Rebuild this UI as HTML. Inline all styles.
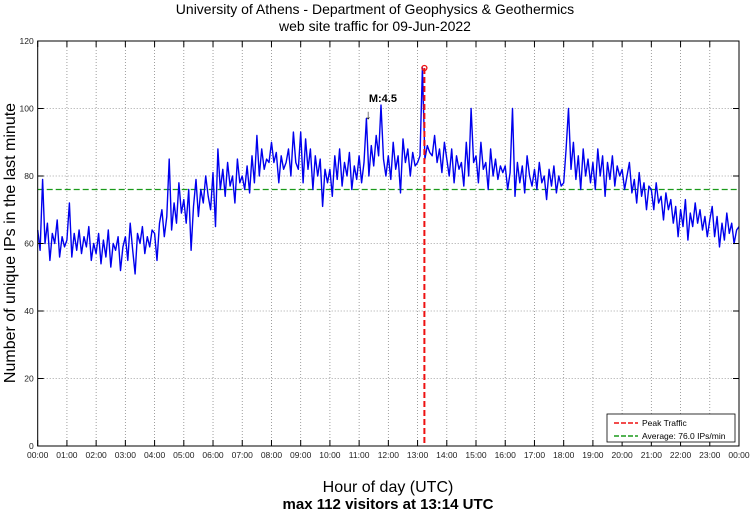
<!DOCTYPE html>
<html><head><meta charset="utf-8"><style>
body{margin:0;background:#fff;}
svg{display:block;font-family:"Liberation Sans",sans-serif;}
</style></head><body>
<svg id="chart" width="750" height="511">
<text x="375" y="14" text-anchor="middle" font-size="14">University of Athens - Department of Geophysics &amp; Geothermics</text>
<text x="375" y="31" text-anchor="middle" font-size="14">web site traffic for 09-Jun-2022</text>
<text transform="translate(15,243) rotate(-90)" text-anchor="middle" font-size="16">Number of unique IPs in the last minute</text>
<text x="388" y="492" text-anchor="middle" font-size="16">Hour of day (UTC)</text>
<text x="388" y="509" text-anchor="middle" font-size="15" font-weight="bold">max 112 visitors at 13:14 UTC</text>
<g id="grid"></g><g id="series"></g><g id="axes"></g>
</svg>
<script>
const hourLabels=["00:00","01:00","02:00","03:00","04:00","05:00","06:00","07:00","08:00","09:00","10:00","11:00","12:00","13:00","14:00","15:00","16:00","17:00","18:00","19:00","20:00","21:00","22:00","23:00","00:00"];
const yTicks=[0,20,40,60,80,100,120];
const visitors=[
64,58,79,60,66,55,63,60,67,56,62,59,
61,72,56,63,58,64,57,62,59,65,55,60,
57,63,54,61,56,64,53,60,58,62,52,59,
62,55,66,58,51,63,60,65,57,62,59,64,
63,55,66,70,62,68,85,64,72,66,78,69,
73,66,76,58,71,79,68,76,72,80,74,70,
81,65,88,76,82,74,84,77,80,72,85,78,
80,76,83,75,86,78,92,80,88,82,85,84,
90,84,87,78,86,82,84,88,80,93,84,82,
93,78,91,82,88,76,86,80,85,71,82,78,
82,74,86,79,88,77,84,80,87,76,83,79,
86,78,84,97,80,89,83,92,86,101,85,80,
86,79,90,82,86,75,91,84,88,80,87,83,
84,86,112,85,89,87,86,92,84,88,81,90,
85,80,88,78,86,82,84,77,90,80,100,84,
86,78,90,82,84,76,88,80,85,79,83,81,
83,76,81,100,74,84,78,83,75,86,80,77,
82,76,84,78,80,73,82,77,83,75,80,77,
78,88,100,82,90,79,86,76,88,80,85,78,
84,76,88,80,86,74,84,79,86,77,83,80,
82,76,80,84,75,79,72,81,74,78,70,77,
76,70,78,72,74,67,75,70,73,66,71,62,
70,65,73,61,69,65,72,66,70,64,68,62,
67,71,62,68,59,66,61,69,63,66,60,64,65];
const stepMinutes=[5];
const averageValue=[76.0];
const peakValue=[112];
const peakMinute=[794];
const markerMinute=[680];
const NS="http://www.w3.org/2000/svg";
const L=37.7,R=739,T=41,B=446;
const xs=m=>L+(m/1440)*(R-L);
const ys=v=>B-(v/120)*(B-T);
function mk(tag,attrs,parent){const e=document.createElementNS(NS,tag);for(const k in attrs)e.setAttribute(k,attrs[k]);parent.appendChild(e);return e;}
const grid=document.getElementById('grid'),axes=document.getElementById('axes'),series=document.getElementById('series');
mk('rect',{x:L,y:T,width:R-L,height:B-T,fill:'#fff'},grid);
hourLabels.forEach((lab,i)=>{const x=xs(i*60);
 if(i>0&&i<24){const g=mk('line',{x1:x,y1:T,x2:x,y2:B,stroke:'#888','stroke-width':0.8,'stroke-dasharray':'1,2'},grid);
 
 }
 mk('line',{x1:x,y1:B,x2:x,y2:B-6,stroke:'#000'},axes);
 mk('line',{x1:x,y1:T,x2:x,y2:T+6,stroke:'#000'},axes);
 const t=mk('text',{x:x,y:B+12,'text-anchor':'middle','font-size':8.5,fill:'#222'},axes);t.textContent=lab;
 
 
});
yTicks.forEach(v=>{const y=ys(v);
 if(v>0&&v<120){const g=mk('line',{x1:L,y1:y,x2:R,y2:y,stroke:'#888','stroke-width':0.8,'stroke-dasharray':'1,2'},grid);
 
 }
 mk('line',{x1:L,y1:y,x2:L+6,y2:y,stroke:'#000'},axes);
 mk('line',{x1:R,y1:y,x2:R-6,y2:y,stroke:'#000'},axes);
 const t=mk('text',{x:L-4,y:y+3,'text-anchor':'end','font-size':8.5,fill:'#222'},axes);t.textContent=v;
 
 
});
const box=mk('rect',{x:L,y:T,width:R-L,height:B-T,fill:'none',stroke:'#000'},axes);


const avg=mk('line',{x1:L,y1:ys(averageValue[0]),x2:R,y2:ys(averageValue[0]),stroke:'#1a9a1a','stroke-width':1.3,'stroke-dasharray':'6,3'},series);


const pts=visitors.map((v,i)=>xs(i*stepMinutes[0]).toFixed(1)+','+ys(v).toFixed(1)).join(' ');
const line=mk('polyline',{points:pts,fill:'none',stroke:'#0000ee','stroke-width':1.4,'stroke-linejoin':'round'},series);


const px=xs(peakMinute[0]);
const pl=mk('line',{x1:px,y1:ys(peakValue[0]),x2:px,y2:B,stroke:'#ee1111','stroke-width':2,'stroke-dasharray':'6,3'},series);


const pc=mk('circle',{cx:px,cy:ys(peakValue[0]),r:2.5,fill:'none',stroke:'#ee1111','stroke-width':1.3},series);


const mx=xs(markerMinute[0]);
const mt=mk('text',{x:mx,y:102,'font-size':11,'font-weight':'bold'},series);mt.textContent='M:4.5';


const ar=mk('text',{x:mx-4,y:119,'font-size':13},series);ar.textContent='↓';


const lg=mk('g',{},axes);


mk('rect',{x:607,y:414,width:128,height:28,fill:'#fff',stroke:'#000','stroke-width':0.8},lg);
mk('line',{x1:614,y1:423,x2:638,y2:423,stroke:'#ee1111','stroke-width':1.5,'stroke-dasharray':'5,2'},lg);
mk('line',{x1:614,y1:436,x2:638,y2:436,stroke:'#1a9a1a','stroke-width':1.5,'stroke-dasharray':'5,2'},lg);
const l1=mk('text',{x:642,y:426,'font-size':8.5},lg);l1.textContent='Peak Traffic';


const l2=mk('text',{x:642,y:439,'font-size':8.5},lg);l2.textContent='Average: 76.0 IPs/min';


</script>
</body></html>
